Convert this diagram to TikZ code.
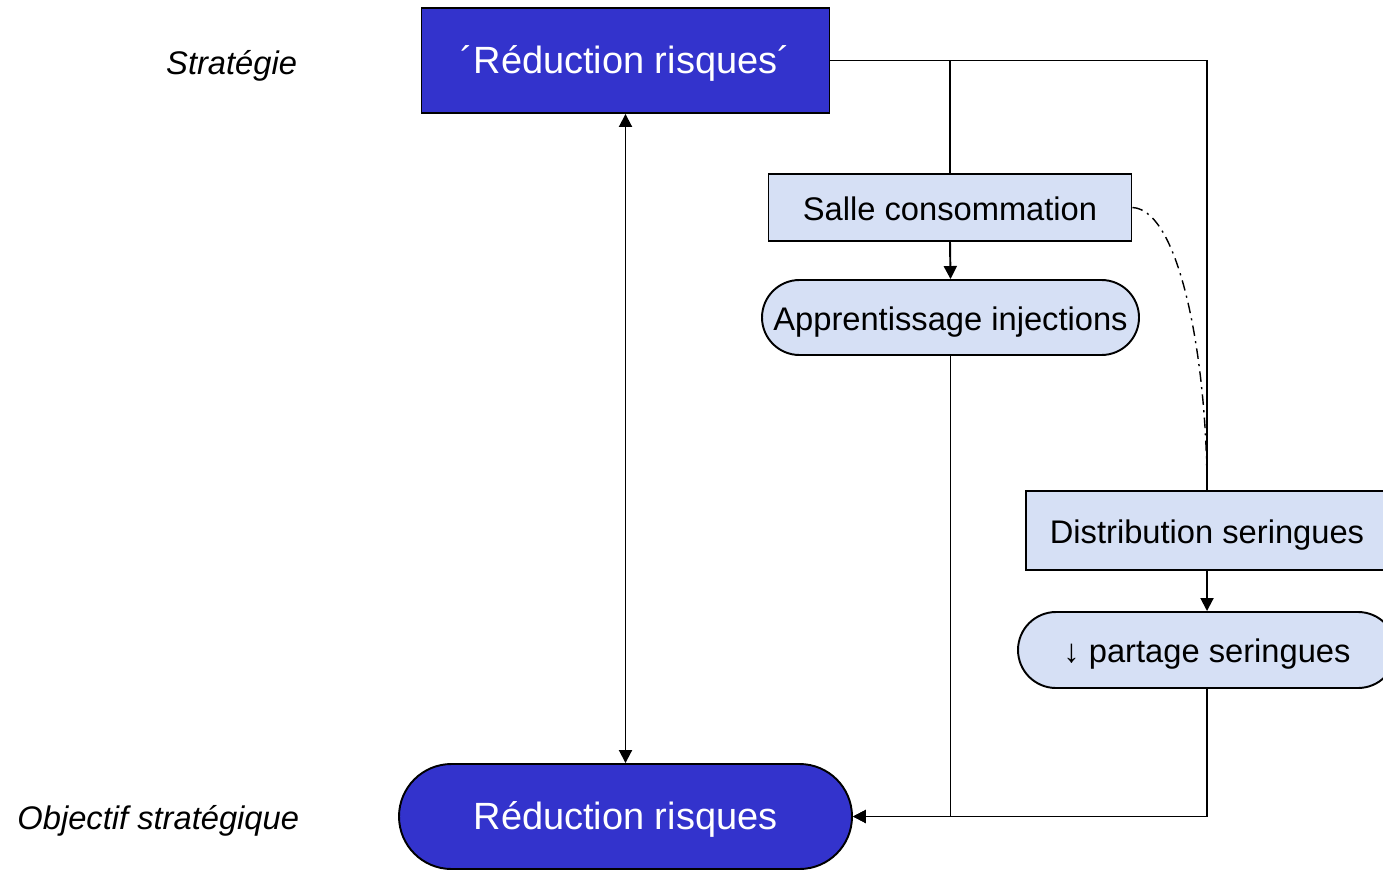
\documentclass[tikz,border=0pt]{standalone}
\usepackage{fontspec}
\setmainfont{Liberation Sans}
\usetikzlibrary{arrows.meta}

\begin{document}
\begin{tikzpicture}[>={Triangle[length=3.7pt, width=3.7pt]}, line width=0.55pt]

\definecolor{strongblue}{RGB}{51, 51, 204}
\definecolor{paleblue}{RGB}{214, 224, 245}

% Page frame
\useasboundingbox (0,0) rectangle (13.83,-8.69);

\tikzset{
    level label/.style={
        font=\fontsize{9.3}{11}\selectfont\itshape, anchor=east,
        inner sep=0pt, text height=0.716em, text depth=0pt
    },
    main block/.style={
        draw=black, fill=strongblue, text=white,
        font=\fontsize{10.8}{13}\selectfont, inner sep=0pt,
        text height=0.716em, text depth=0pt,
        minimum width=#1, minimum height=1.05cm
    },
    action block/.style={
        draw=black, fill=paleblue,
        font=\fontsize{9.3}{11}\selectfont, inner sep=0pt,
        text height=0.716em, text depth=0pt
    },
    link/.style={
        draw=black, line width=0.55pt
    }
}

% Level labels
\node[level label] (stratlbl) at (2.98, -0.62) {Stratégie};
\node[level label] (goallbl) at (3.00, -8.17) {Objectif stratégique};

% Strategy and objective
\node[main block=4.08cm] (strat) at (6.255, -0.605) {´Réduction risques´};
\node[main block=4.53cm, rounded corners=0.525cm] (goal) at (6.255, -8.165) {Réduction risques};

% Actions (left branch)
\node[action block, minimum width=3.63cm, minimum height=0.67cm] (salle) at (9.50, -2.075) {Salle consommation};
\node[action block, minimum width=3.77cm, minimum height=0.75cm, rounded corners=0.375cm] (appr) at (9.505, -3.175) {Apprentissage injections};

% Actions (right branch)
\node[action block, minimum width=3.62cm, minimum height=0.79cm] (distr) at (12.07, -5.305) {Distribution seringues};
\node[action block, minimum width=3.78cm, minimum height=0.76cm, rounded corners=0.38cm] (partage) at (12.07, -6.50) {↓ partage seringues};

% --- CONNECTIONS ---

% Strategy <-> objective
\draw[link, <->] (strat.south) -- (goal.north);

% Strategy to actions
\draw[link] (strat.east) -| (distr.north);
\draw[link] (salle.north) -- (salle.north |- strat.east);

% Actions to effects
\draw[link, ->] (salle.south) -- (appr.north);
\draw[link, ->] (distr.south) -- (partage.north);

% Effects to objective
\draw[link, ->] (appr.south) |- (goal.east);
\draw[link, ->] (partage.south) |- (goal.east);

% Link between actions
\draw[link, line width=0.4pt, dash pattern=on 3pt off 1.5pt on 0.6pt off 1.5pt]
    (salle.east) .. controls (11.8, -2.1) and (12.07, -3.6) .. (distr.north);

\end{tikzpicture}
\end{document}
